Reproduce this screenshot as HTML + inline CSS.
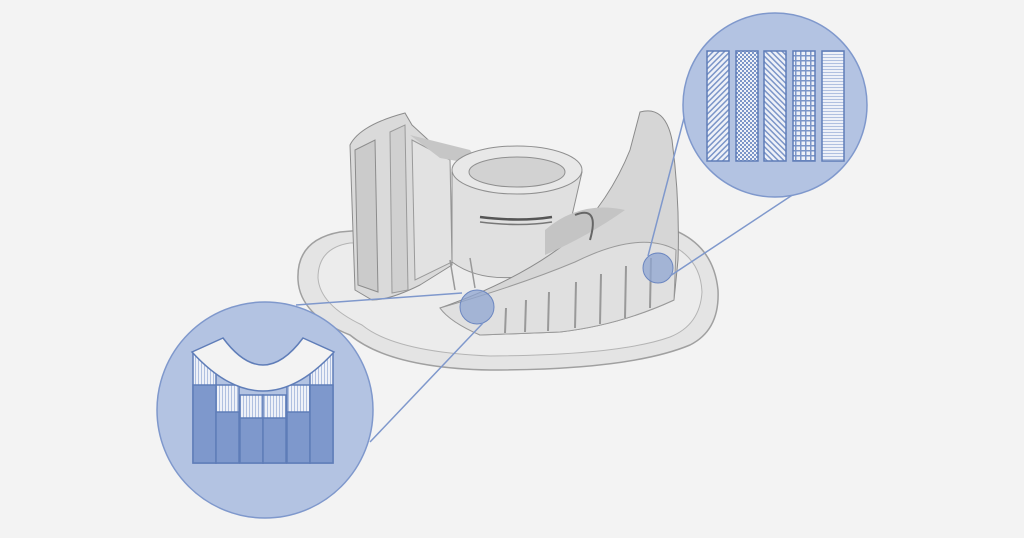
<!DOCTYPE html>
<html><head><style>html,body{margin:0;padding:0;background:#f3f3f3;}svg{display:block}</style></head>
<body>
<svg width="1024" height="538" viewBox="0 0 1024 538" xmlns="http://www.w3.org/2000/svg">
<defs>
<pattern id="d1" width="4" height="4" patternUnits="userSpaceOnUse" patternTransform="rotate(45)"><rect width="4" height="4" fill="#eef1f8"/><rect width="1.5" height="4" fill="#7b95c8"/></pattern>
<pattern id="d2" width="4" height="4" patternUnits="userSpaceOnUse" patternTransform="rotate(-45)"><rect width="4" height="4" fill="#eef1f8"/><rect width="1.5" height="4" fill="#7b95c8"/></pattern>
<pattern id="ck" width="4" height="4" patternUnits="userSpaceOnUse"><rect width="4" height="4" fill="#eef1f8"/><rect width="2" height="2" fill="#7b95c8"/><rect x="2" y="2" width="2" height="2" fill="#7b95c8"/></pattern>
<pattern id="gr" width="5" height="5" patternUnits="userSpaceOnUse"><rect width="5" height="5" fill="#eef1f8"/><rect width="5" height="1.5" fill="#7b95c8"/><rect width="1.5" height="5" fill="#7b95c8"/></pattern>
<pattern id="hz" width="3" height="3" patternUnits="userSpaceOnUse"><rect width="3" height="3" fill="#eef1f8"/><rect width="3" height="1" fill="#b0c0e0"/></pattern>
<pattern id="vt" width="3" height="3" patternUnits="userSpaceOnUse"><rect width="3" height="3" fill="#eef1f8"/><rect width="1" height="3" fill="#b0c0e0"/></pattern>
</defs>
<rect width="1024" height="538" fill="#f3f3f3"/>
<!-- base plate -->
<path d="M298 280 Q296 240 340 232 L420 225 L640 222 Q712 230 718 290 Q720 330 690 345 Q630 370 490 370 Q390 368 350 335 Q300 315 298 280 Z" fill="#e4e4e4" stroke="#a0a0a0" stroke-width="1.5"/>
<path d="M318 278 Q318 248 350 243 L640 236 Q700 245 702 292 Q700 325 670 337 Q620 355 490 356 Q395 352 362 325 Q320 305 318 278 Z" fill="#ececec" stroke="#b4b4b4"/>
<!-- left wall -->
<path d="M350 145 Q360 125 405 113 L412 125 L450 160 L452 265 L420 285 Q390 300 372 300 L355 290 Z" fill="#dadada" stroke="#8c8c8c"/>
<path d="M355 150 L375 140 L378 292 L358 285 Z" fill="#cbcbcb" stroke="#8c8c8c"/>
<path d="M390 132 L405 125 L408 290 L392 293 Z" fill="#d0d0d0" stroke="#9a9a9a"/>
<path d="M412 140 L450 160 L452 262 L415 280 Z" fill="#e2e2e2" stroke="#9a9a9a"/>
<path d="M410 135 L470 150 L480 165 L440 158 Z" fill="#c6c6c6"/>
<!-- center cylinder -->
<path d="M452 172 L452 262 Q490 290 560 268 L582 172 Z" fill="#e0e0e0" stroke="#8f8f8f"/>
<ellipse cx="517" cy="170" rx="65" ry="24" fill="#e8e8e8" stroke="#8f8f8f"/>
<ellipse cx="517" cy="172" rx="48" ry="15" fill="#d2d2d2" stroke="#8f8f8f"/>
<path d="M480 217 Q520 222 552 217" fill="none" stroke="#555" stroke-width="2.5"/>
<path d="M480 222 Q520 227 552 222" fill="none" stroke="#777" stroke-width="1.5"/>
<!-- blade -->
<path d="M640 112 Q665 105 672 140 Q680 200 678 260 L674 300 Q620 325 560 332 L480 335 Q450 322 440 308 Q520 280 570 240 Q610 200 630 150 Z" fill="#d6d6d6" stroke="#8a8a8a"/>
<path d="M440 308 Q520 285 575 262 Q640 230 676 250 L674 300 Q620 325 560 332 L480 335 Q450 322 440 308 Z" fill="#e0e0e0" stroke="#9a9a9a"/>
<path d="M545 230 Q580 200 625 210 Q590 235 545 255 Z" fill="#c4c4c4"/>
<path d="M575 215 Q600 205 590 240" fill="none" stroke="#666" stroke-width="2"/>
<path d="M505 333 L506 308 M525 332 L526 300 M548 331 L549 292 M575 328 L576 282 M600 324 L601 274 M625 318 L626 266 M650 308 L651 258" stroke="#999" stroke-width="2"/>
<path d="M450 260 L455 290 M470 258 L475 288" stroke="#999" stroke-width="1.5"/>
<!-- small circles -->
<circle cx="477" cy="307" r="17" fill="#8fa5d2" fill-opacity="0.75" stroke="#6b86c0"/>
<circle cx="658" cy="268" r="15" fill="#8fa5d2" fill-opacity="0.75" stroke="#6b86c0"/>
<!-- leader lines -->
<g stroke="#7f98cc" stroke-width="1.5">
<line x1="296" y1="305" x2="462" y2="293"/>
<line x1="370" y1="442" x2="483" y2="323"/>
<line x1="684" y1="118" x2="648" y2="256"/>
<line x1="800" y1="190" x2="670" y2="276"/>
</g>
<!-- left detail circle -->
<circle cx="265" cy="410" r="108" fill="#b3c3e2" stroke="#7f98cc" stroke-width="1.5"/>
<g stroke="#5f7db8" stroke-width="1.5">
<rect x="193" y="352" width="23" height="111" fill="url(#vt)"/>
<rect x="216" y="385" width="23" height="78" fill="url(#vt)"/>
<rect x="240" y="395" width="23" height="68" fill="url(#vt)"/>
<rect x="263" y="395" width="23" height="68" fill="url(#vt)"/>
<rect x="287" y="385" width="23" height="78" fill="url(#vt)"/>
<rect x="310" y="352" width="23" height="111" fill="url(#vt)"/>
<rect x="193" y="385" width="23" height="78" fill="#7e98cc"/>
<rect x="216" y="412" width="23" height="51" fill="#7e98cc"/>
<rect x="240" y="418" width="23" height="45" fill="#7e98cc"/>
<rect x="263" y="418" width="23" height="45" fill="#7e98cc"/>
<rect x="287" y="412" width="23" height="51" fill="#7e98cc"/>
<rect x="310" y="385" width="23" height="78" fill="#7e98cc"/>
<path d="M192 352 L223 338 Q263 392 303 338 L334 352 Q263 430 192 352 Z" fill="#f3f3f3"/>
</g>
<!-- right detail circle -->
<circle cx="775" cy="105" r="92" fill="#b3c3e2" stroke="#7f98cc" stroke-width="1.5"/>
<g stroke="#5f7db8" stroke-width="1.5">
<rect x="707" y="51" width="22" height="110" fill="url(#d1)"/>
<rect x="736" y="51" width="22" height="110" fill="url(#ck)"/>
<rect x="764" y="51" width="22" height="110" fill="url(#d2)"/>
<rect x="793" y="51" width="22" height="110" fill="url(#gr)"/>
<rect x="822" y="51" width="22" height="110" fill="url(#hz)"/>
</g>
</svg>
</body></html>
